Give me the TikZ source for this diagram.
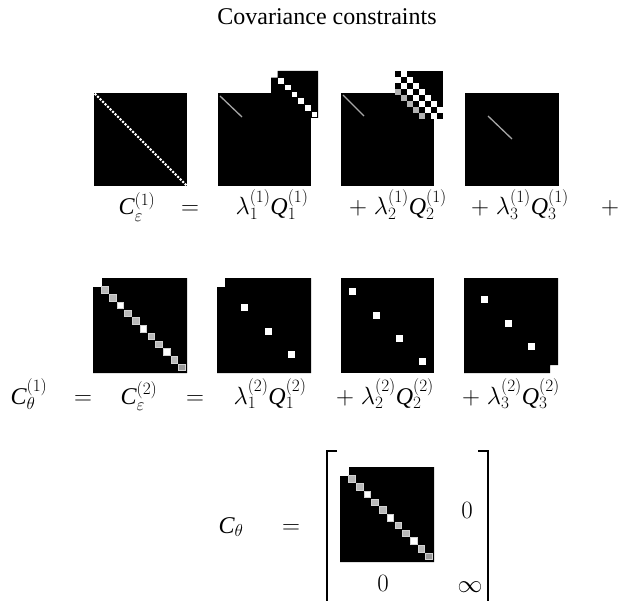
\documentclass[tikz,border=0pt]{standalone}
\usepackage{fontspec}
\setmainfont{Liberation Serif}
\newcommand{\vC}{\textit{C}}
\newcommand{\vQ}{\textit{Q}}
\begin{document}
\begin{tikzpicture}[x=1pt,y=-1pt,every node/.style={font=\fontsize{24}{28}\selectfont,inner sep=0pt},lbl/.style={anchor=base},spike/.style={gray!70,line width=1.3pt}]
\useasboundingbox (0,0) rectangle (620,601);
\node[lbl] (title) at (327,25){Covariance constraints};
% first level
\fill (94,93) rectangle (187,186);
\foreach \k in {0,...,36} \fill[white] ({95.5+2.5*\k},{94.5+2.5*\k}) circle (1.5);
\fill (218,93) rectangle (311,186);\draw[spike] (220,96)--(242,117);
\fill (271,93)--(271,77.7)--(277.7,77.7)--(277.7,71)--(318,71)--(318,118)--(311,118)--(311,93)--cycle;
\foreach \k in {1,...,6} \fill[white] ({271.6+6.7*\k},{71.6+6.7*\k}) rectangle +(5.5,5.5);
\fill (341,93) rectangle (434,186);\draw[spike] (343,95)--(364,116);
\foreach \i in {0,...,7}{\foreach \j in {0,...,7}{
  \pgfmathtruncatemacro\d{\i-\j}
  \ifnum\d>1 \fill ({395+6*\i},{71+6*\j}) rectangle +(6,6);
  \else\ifnum\d>-3 \ifodd\d \fill[white] ({395+6*\i},{71+6*\j}) rectangle +(6,6);\else \fill ({395+6*\i},{71+6*\j}) rectangle +(6,6);\fi
  \else\ifnum\d=-3 \fill[gray!60] ({395+6*\i},{71+6*\j}) rectangle +(6,6);\fi\fi\fi}}
\fill (465,93) rectangle (559,186);\draw[spike] (488,116)--(512,139);
\node[lbl] (ceps1) at (137,215){$\vC_\varepsilon^{(1)}$};
\node[lbl] (eq1) at (190,215){$=$};
\node[lbl] (q11) at (272,215){$\lambda_1^{(1)}\vQ_1^{(1)}$};
\node[lbl] (q21) at (398,215){$+\;\lambda_2^{(1)}\vQ_2^{(1)}$};
\node[lbl] (q31) at (520,215){$+\;\lambda_3^{(1)}\vQ_3^{(1)}$};
\node[lbl] (plus) at (610,215){$+$};
% second level and prior
\foreach \ox/\oy in {93/278,340/467}{
  \fill ({\ox+9},\oy)--({\ox+94},\oy)--({\ox+94},{\oy+95})--(\ox,{\oy+95})--(\ox,{\oy+9})--({\ox+9},{\oy+9})--cycle;
  \foreach \k/\c in {0/gray!55,1/gray!55,2/white,3/gray!55,4/gray!55,5/white,6/gray!55,7/gray!55,8/white,9/gray!55,10/gray!80}
    \filldraw[fill=\c,draw=gray!35,line width=1pt] ({\ox+8.8+7.7*\k},{\oy+8.8+7.75*\k}) rectangle +(6.6,6.6);}
\fill (225,278)--(311,278)--(311,373)--(217,373)--(217,287)--(225,287)--cycle;
\foreach \x/\y in {244/307,268/331,291/354} \fill[white] ({\x-3.5},{\y-3.5}) rectangle +(7,7);
\fill (341,278) rectangle (434,373);
\foreach \x/\y in {352/291,376/315,399/338,422/361} \fill[white] ({\x-3.5},{\y-3.5}) rectangle +(7,7);
\fill (464,278)--(558,278)--(558,365)--(550,365)--(550,373)--(464,373)--cycle;
\foreach \x/\y in {484/299,508/323,531/346} \fill[white] ({\x-3.5},{\y-3.5}) rectangle +(7,7);
\node[lbl] (cth1) at (29,404){$\vC_\theta^{(1)}$};
\node[lbl] (eq2) at (83,404){$=$};
\node[lbl] (ceps2) at (139,404){$\vC_\varepsilon^{(2)}$};
\node[lbl] (eq3) at (195,404){$=$};
\node[lbl] (q12) at (270,404){$\lambda_1^{(2)}\vQ_1^{(2)}$};
\node[lbl] (q22) at (385,404){$+\;\lambda_2^{(2)}\vQ_2^{(2)}$};
\node[lbl] (q32) at (511,404){$+\;\lambda_3^{(2)}\vQ_3^{(2)}$};
% full prior
\draw[line width=1.8pt] (337,451)--(327,451)--(327,602);
\draw[line width=1.8pt] (478,451)--(488,451)--(488,602);
\node[lbl] (cth) at (231,533){$\vC_\theta$};
\node[lbl] (eq4) at (291,533){$=$};
\node[lbl] (zr) at (467,518){$0$};
\node[lbl] (zb) at (383,591){$0$};
\node[lbl] (inf) at (470,592){$\infty$};
\end{tikzpicture}
\end{document}
